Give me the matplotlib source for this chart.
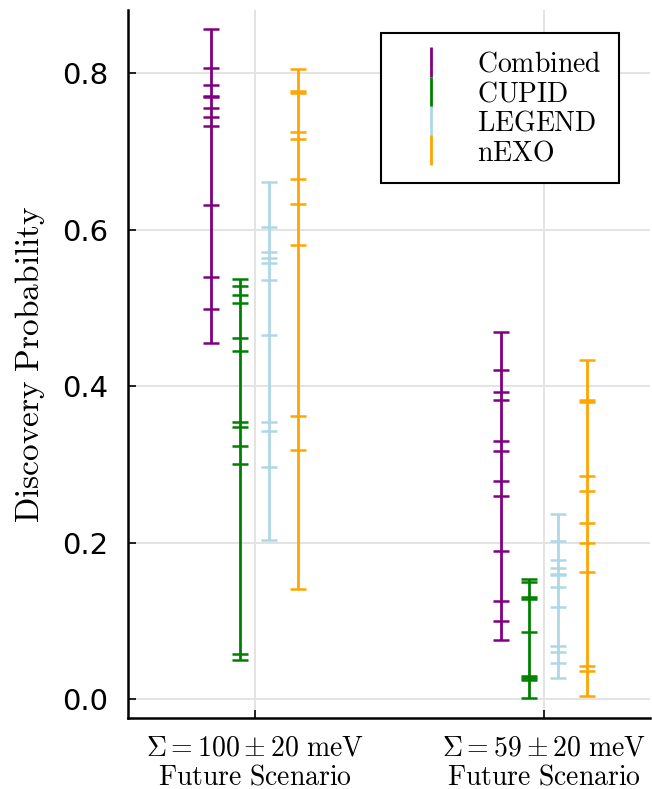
import numpy as np
import matplotlib
matplotlib.use("Agg")
import matplotlib.pyplot as plt
from matplotlib.lines import Line2D

plt.rcParams["mathtext.fontset"] = "cm"

scenarios = [r"$\Sigma = 100 \pm 20\ \mathrm{meV}$" + "\n" + r"$\mathrm{Future\ Scenario}$",
             r"$\Sigma = 59 \pm 20\ \mathrm{meV}$" + "\n" + r"$\mathrm{Future\ Scenario}$"]
experiments = ["Combined", "CUPID", "LEGEND", "nEXO"]
colors = ["#800080", "#008000", "#add8e6", "#ffa500"]

# discovery probabilities, one list per experiment and scenario
combined_100 = [0.856, 0.807, 0.785, 0.771, 0.769, 0.756, 0.744, 0.732, 0.631, 0.540, 0.499, 0.455]
cupid_100 = [0.537, 0.528, 0.517, 0.506, 0.461, 0.445, 0.354, 0.348, 0.323, 0.300, 0.057, 0.050]
legend_100 = [0.661, 0.603, 0.571, 0.564, 0.558, 0.536, 0.465, 0.354, 0.342, 0.297, 0.203]
nexo_100 = [0.806, 0.777, 0.775, 0.725, 0.716, 0.665, 0.633, 0.580, 0.362, 0.318, 0.141]

combined_59 = [0.469, 0.420, 0.392, 0.382, 0.330, 0.317, 0.279, 0.260, 0.189, 0.125, 0.100, 0.075]
cupid_59 = [0.154, 0.150, 0.130, 0.128, 0.085, 0.030, 0.027, 0.024, 0.001]
legend_59 = [0.236, 0.202, 0.178, 0.168, 0.160, 0.158, 0.143, 0.118, 0.068, 0.060, 0.046, 0.027]
nexo_59 = [0.433, 0.382, 0.380, 0.285, 0.266, 0.225, 0.199, 0.162, 0.042, 0.036, 0.004]

data = [[combined_100, cupid_100, legend_100, nexo_100],
        [combined_59, cupid_59, legend_59, nexo_59]]
offsets = [-0.15, -0.05, 0.05, 0.15]

fig = plt.figure(figsize=(6.52, 7.89), dpi=100)
ax = fig.add_axes([0.196, 0.090, 0.801, 0.897])

for i, group in enumerate(data):
    xc = i + 1
    for j, vals in enumerate(group):
        x = xc + offsets[j]
        vals = np.array(vals)
        ax.vlines(x, vals.min(), vals.max(), color=colors[j], lw=2, zorder=3)
        ax.plot(np.full(len(vals), x), vals, ls="none", marker="_", ms=12,
                mew=1.8, color=colors[j], zorder=3)

ax.set_xlim(0.5606, 2.367)
ax.set_ylim(-0.0243, 0.8805)
ax.set_xticks([1, 2])
ax.set_xticklabels(scenarios, fontsize=20, linespacing=1.05)
ax.set_yticks([0.0, 0.2, 0.4, 0.6, 0.8])
ax.set_yticklabels(["0.0", "0.2", "0.4", "0.6", "0.8"], fontsize=21)
ax.tick_params(direction="in", length=6, width=1.2, pad=14)
ax.tick_params(axis="x", pad=11)
ax.set_ylabel(r"$\mathrm{Discovery\ Probability}$", fontsize=24, labelpad=11)

ax.grid(True, color="#e3e3e3", lw=1.4, zorder=0)
ax.set_axisbelow(True)
for side in ["top", "right"]:
    ax.spines[side].set_visible(False)
for side in ["left", "bottom"]:
    ax.spines[side].set_linewidth(1.8)

handles = [Line2D([], [], ls="none", marker="|", ms=21, mew=2, color=c) for c in colors]
labels = [r"$\mathrm{" + e + "}$" for e in experiments]
leg = ax.legend(handles, labels, loc="upper right", bbox_to_anchor=(0.94, 0.9675),
                fontsize=20, frameon=True, fancybox=False, framealpha=1,
                edgecolor="black", labelspacing=0.05, handlelength=2.35,
                handletextpad=0.51, borderpad=0.6, borderaxespad=0)
leg.get_frame().set_linewidth(1.5)

fig.savefig("out.png", dpi=100)
